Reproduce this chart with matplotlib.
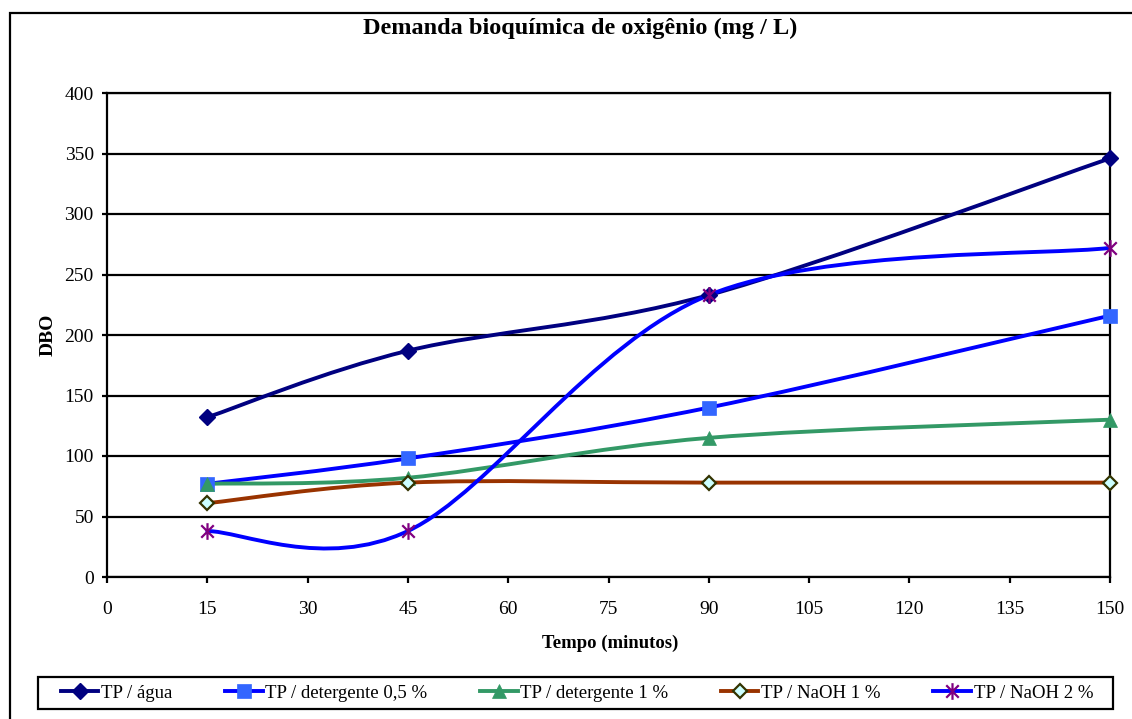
import numpy as np
import matplotlib
matplotlib.use("Agg")
import matplotlib.pyplot as plt
from matplotlib.path import Path
from matplotlib.patches import PathPatch, Rectangle
from matplotlib.lines import Line2D

plt.rcParams['font.family'] = ['Liberation Serif', 'DejaVu Serif']

# ---- data ----
tempo = [15, 45, 90, 150]
agua = [132, 187, 233, 346]
det05 = [77, 98, 140, 216]
det1 = [77, 82, 115, 130]
naoh1 = [61, 78, 78, 78]
naoh2 = [38, 38, 233, 272]

labels = ["TP / água", "TP / detergente 0,5 %", "TP / detergente 1 %",
          "TP / NaOH 1 %", "TP / NaOH 2 %"]
x_ticks = [0, 15, 30, 45, 60, 75, 90, 105, 120, 135, 150]
y_ticks = [0, 50, 100, 150, 200, 250, 300, 350, 400]

title = "Demanda bioquímica de oxigênio (mg / L)"
xlabel = "Tempo (minutos)"
ylabel = "DBO"

# asterisk marker (vertical bar + X), Excel style
star_path = Path([(0, -1), (0, 1), (-0.75, -0.75), (0.75, 0.75), (-0.75, 0.75), (0.75, -0.75)],
                 [Path.MOVETO, Path.LINETO, Path.MOVETO, Path.LINETO, Path.MOVETO, Path.LINETO])

series = [
    (agua, dict(color='#000080', marker='D', ms=8, mfc='#000080', mec='#000080', mew=1)),
    (det05, dict(color='#0000FF', marker='s', ms=10.5, mfc='#3366FF', mec='#3366FF', mew=0.5)),
    (det1, dict(color='#339966', marker='^', ms=10.5, mfc='#339966', mec='#339966', mew=0.5)),
    (naoh1, dict(color='#993300', marker='D', ms=7.5, mfc='#CCFFFF', mec='#333300', mew=1.6)),
    (naoh2, dict(color='#0000FF', marker=star_path, ms=12, mfc='none', mec='#800080', mew=1.6)),
]


def smooth_path(xs, ys):
    pts = np.column_stack([xs, ys]).astype(float)
    n = len(pts)
    verts = [pts[0]]
    codes = [Path.MOVETO]
    for i in range(n - 1):
        p0 = pts[i - 1] if i > 0 else pts[i]
        p1 = pts[i]
        p2 = pts[i + 1]
        p3 = pts[i + 2] if i + 2 < n else pts[i + 1]
        c1 = p1 + (p2 - p0) / 6.0
        c2 = p2 - (p3 - p1) / 6.0
        verts += [c1, c2, p2]
        codes += [Path.CURVE4] * 3
    return Path(verts, codes)


W, H = 1132, 719
fig = plt.figure(figsize=(W / 100, H / 100), dpi=100)
ax = fig.add_axes([107 / W, 1 - 577 / H, (1110 - 107) / W, (577 - 93) / H])

lw = 2.8
handles = []
for vals, st in series:
    patch = PathPatch(smooth_path(tempo, vals), facecolor='none', edgecolor=st['color'],
                      lw=lw, zorder=3, capstyle='round', joinstyle='round')
    ax.add_patch(patch)
    ax.plot(tempo, vals, linestyle='none', marker=st['marker'], ms=st['ms'],
            mfc=st['mfc'], mec=st['mec'], mew=st['mew'], zorder=4, clip_on=False)
    handles.append(Line2D([], [], color=st['color'], lw=lw, marker=st['marker'], ms=st['ms'],
                          mfc=st['mfc'], mec=st['mec'], mew=st['mew']))

ax.set_xlim(0, 150)
ax.set_ylim(0, 400)
ax.set_xticks(x_ticks)
ax.set_yticks(y_ticks)
ax.yaxis.grid(True, color='black', lw=1.6)
ax.set_axisbelow(True)
for s in ax.spines.values():
    s.set_linewidth(1.6)
    s.set_color('black')
ax.tick_params(axis='y', direction='out', length=3.5, width=1.6, pad=6, labelsize=14)
ax.tick_params(axis='x', direction='out', length=4, width=1.6, pad=13, labelsize=14)

fig.text(48 / W, 1 - 335 / H, ylabel, rotation=90, ha='center', va='center',
         fontsize=14, fontweight='bold')
fig.text(610 / W, 1 - 643 / H, xlabel, ha='center', va='center',
         fontsize=13.5, fontweight='bold')
fig.text(580 / W, 1 - 28 / H, title, ha='center', va='center',
         fontsize=17.5, fontweight='bold')

# outer chart border (left and top visible)
fig.patches.append(Rectangle((10 / W, -0.05), 1.2, 1 - 13 / H + 0.05, transform=fig.transFigure,
                             fill=False, edgecolor='black', lw=1.6, clip_on=False))
# legend frame
fig.patches.append(Rectangle((38 / W, 1 - 709 / H), (1113 - 38) / W, 32 / H,
                             transform=fig.transFigure, fill=False, edgecolor='black', lw=1.6))

fig.legend(handles, labels, loc='center', bbox_to_anchor=(577 / W, 1 - 693 / H), ncol=5,
           frameon=False, fontsize=13.5, handlelength=2.0, handletextpad=0.15,
           columnspacing=2.8, numpoints=1, borderpad=0.2)

fig.savefig('out.png', dpi=100)
